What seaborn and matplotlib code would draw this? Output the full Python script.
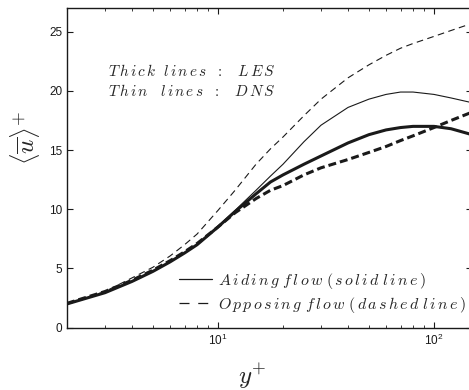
import matplotlib
matplotlib.use("Agg")
import matplotlib.pyplot as plt
from matplotlib.lines import Line2D
from matplotlib.ticker import LogLocator, NullFormatter
import numpy as np
import pandas as pd
import seaborn as sns

# wall distance y+ at which the profiles are sampled
yplus = [2, 3, 4, 5, 6, 7, 8, 10, 12, 15, 17.5, 20, 25, 30, 40, 50, 60, 70, 80, 100, 120, 150]

# mean velocity <u>+ profiles
dns_aiding   = [2.0, 2.95, 3.9, 4.75, 5.55, 6.3, 7.0, 8.55, 9.9, 11.6, 12.8, 13.8, 15.7, 17.1, 18.6, 19.3, 19.7, 19.9, 19.9, 19.7, 19.4, 19.0]
dns_opposing = [2.0, 3.05, 4.2, 5.1, 6.05, 7.0, 7.9, 9.9, 11.6, 13.8, 15.1, 16.1, 17.9, 19.3, 21.1, 22.2, 23.0, 23.6, 24.0, 24.6, 25.1, 25.7]
les_aiding   = [2.0, 2.95, 3.9, 4.75, 5.55, 6.3, 7.0, 8.5, 9.8, 11.3, 12.3, 12.9, 13.8, 14.5, 15.6, 16.3, 16.7, 16.9, 17.0, 17.0, 16.8, 16.3]
les_opposing = [2.05, 3.05, 4.0, 4.85, 5.65, 6.4, 7.1, 8.5, 9.7, 10.9, 11.6, 12.0, 12.9, 13.5, 14.2, 14.8, 15.3, 15.8, 16.2, 16.9, 17.5, 18.2]

yticks = [0, 5, 10, 15, 20, 25]


def spaced(text):
    """Math-italic string with loose letter spacing, like LaTeX math mode."""
    words = text.split(" ")
    return "$" + r"\ ".join(r"\,".join(w) for w in words) + "$"


sns.set_theme(style="ticks")
plt.rcParams["font.family"] = ["Liberation Sans", "DejaVu Sans"]
plt.rcParams["mathtext.fontset"] = "cm"

fig = plt.figure(figsize=(4.69, 3.90), dpi=100)
ax = fig.add_axes([67 / 469, 1 - 327.6 / 390, 405 / 469, 319.6 / 390])

df = pd.DataFrame({"yplus": yplus, "dns_a": dns_aiding, "dns_o": dns_opposing,
                   "les_a": les_aiding, "les_o": les_opposing})

sns.lineplot(data=df, x="yplus", y="dns_o", ax=ax, color="k", lw=0.8,
             linestyle=(0, (6, 4)))
sns.lineplot(data=df, x="yplus", y="dns_a", ax=ax, color="k", lw=0.8)
sns.lineplot(data=df, x="yplus", y="les_a", ax=ax, color="k", lw=2.2)
sns.lineplot(data=df, x="yplus", y="les_o", ax=ax, color="k", lw=2.2,
             linestyle=(0, (2.6, 1.3)))

ax.set_xscale("log")
ax.set_xlim(2, 150)
ax.set_ylim(0, 27)
ax.set_yticks(yticks)
ax.xaxis.set_minor_locator(LogLocator(base=10, subs=np.arange(2, 10)))
ax.xaxis.set_minor_formatter(NullFormatter())

for s in ax.spines.values():
    s.set_linewidth(1.0)
    s.set_color("k")
ax.tick_params(which="both", direction="in", top=True, right=True, colors="k",
               labelsize=8.5)
ax.tick_params(which="major", length=4, width=0.8)
ax.tick_params(which="minor", length=2.5, width=0.6)

ax.set_xlabel(r"$y^{+}$", fontsize=18)
ax.xaxis.set_label_coords(0.457, -0.108)
ax.set_ylabel(r"$\langle\overline{u}\rangle^{+}$", fontsize=18)
ax.yaxis.set_label_coords(-0.062, 0.593)

ax.text(3.1, 21.7, r"$T\,h\,i\,c\,k\ \ l\,i\,n\,e\,s\ \ :\ \ \ L\,E\,S$",
        fontsize=11, va="center", ha="left")
ax.text(3.1, 20.0, r"$T\,h\,i\,n\ \ \ l\,i\,n\,e\,s\ \ :\ \ \ D\,N\,S$",
        fontsize=11, va="center", ha="left")

handles = [Line2D([], [], color="k", lw=0.9),
           Line2D([], [], color="k", lw=0.9, linestyle=(0, (8, 7)))]
labels = [spaced("Aiding flow (solid line)"), spaced("Opposing flow (dashed line)")]
ax.legend(handles, labels, loc="upper left", bbox_to_anchor=(0.26, 0.198),
          frameon=False, fontsize=11.5, handlelength=2.1, handletextpad=0.35,
          borderaxespad=0, labelspacing=0.25)

fig.savefig("out.png", dpi=100)
